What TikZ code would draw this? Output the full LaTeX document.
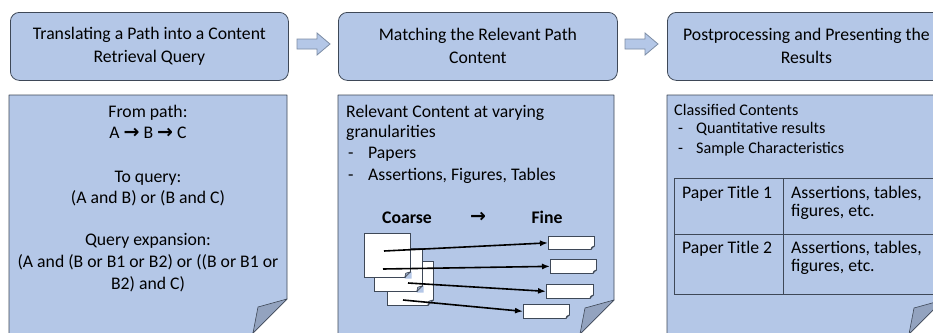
\documentclass[tikz,border=0pt]{standalone}
\usepackage{fontspec}
\setmainfont{Carlito}
\newfontfamily\symfont{DejaVu Sans}
\usetikzlibrary{arrows.meta}
\definecolor{boxfill}{HTML}{B4C7E7}
\definecolor{boxline}{HTML}{3E4857}
\definecolor{foldfill}{HTML}{93A3BF}
\definecolor{arrline}{HTML}{7D8DA5}
\newcommand\foldcorner[2]{%
  \fill[boxfill] ([xshift=0.8pt,yshift=-0.8pt]#1.south east) -- ++(-#2-0.8,0) -- ++(#2+0.8,-#2-0.8) -- cycle;
  \filldraw[fold] (#1.south east) ++(-#2,0) -- ++(#2,-#2) -- ++(-#2+1,1.5) -- cycle;
}
\newcommand\symarrow{{\fontsize{19}{21}\selectfont\symfont\bfseries →}}
\begin{document}
\begin{tikzpicture}[x=1pt,y=-1pt,
  topbox/.style={draw=boxline, fill=boxfill, line width=0.8pt, rounded corners=9pt,
    minimum width=278pt, minimum height=68pt, anchor=north west, align=center,
    inner sep=0pt, font=\fontsize{17.7}{23}\selectfont},
  page/.style={draw=boxline, fill=boxfill, line width=0.8pt, line join=round},
  fold/.style={draw=boxline, fill=foldfill, line width=0.6pt, line join=round},
  blockarrow/.style={draw=arrline, fill=boxfill, line width=0.8pt},
  txt/.style={anchor=base, inner sep=0pt, font=\fontsize{17.7}{21}\selectfont},
  ltxt/.style={txt, anchor=base west},
  stxt/.style={anchor=base west, inner sep=0pt, font=\fontsize{16.2}{19}\selectfont},
  sheet/.style={draw=boxline, fill=white, line width=0.7pt, inner sep=0pt, anchor=north west},
  conn/.style={line width=1.6pt, -{Latex[length=8pt,width=6pt]}},
  tbl/.style={draw=boxline, line width=0.8pt}]
\useasboundingbox (0,0) rectangle (933,332);
\clip (0,0) rectangle (933,332);
\fill[white] (0,0) rectangle (933,332);

% top boxes
\node[topbox] (h1) at (10,12) {Translating a Path into a Content\\Retrieval Query};
\node[topbox, minimum width=279pt] (h2) at (338,12) {Matching the Relevant Path\\Content};
\node[topbox] (h3) at (667,12) {Postprocessing and Presenting the\\Results};

% block arrows
\draw[blockarrow] (297,39) -- (317,39) -- (317,33) -- (330,44) -- (317,55) -- (317,49) -- (297,49) -- cycle;
\draw[blockarrow] (625,39) -- (645,39) -- (645,33) -- (658,44) -- (645,55) -- (645,49) -- (625,49) -- cycle;

% pages
\draw[page] (9,360) -- (9,95) -- (287,95) -- (287,299) -- (226,360) -- cycle;
\draw[fold] (287,299) -- (258,307) -- (253,333) -- cycle;
\draw[page] (338,360) -- (338,95) -- (614,95) -- (614,300) -- (554,360) -- cycle;
\draw[fold] (614,300) -- (585,308) -- (580,334) -- cycle;
\draw[page] (667,360) -- (667,95) -- (943,95) -- (943,300) -- (883,360) -- cycle;
\draw[fold] (943,300) -- (914,308) -- (909,334) -- cycle;

% page 1 text
\node[txt] (p1a) at (148,117) {From path:};
\node[txt] (p1b) at (148,138) {A \symarrow{} B \symarrow{} C};
\node[txt] (p1c) at (148,182) {To query:};
\node[txt] (p1d) at (148,203) {(A and B) or (B and C)};
\node[txt] (p1e) at (148,245) {Query expansion:};
\node[txt] (p1f) at (148,267) {(A and (B or B1 or B2) or ((B or B1 or};
\node[txt] (p1g) at (148,289) {B2) and C)};

% page 2 text
\node[ltxt] (p2a) at (346,117) {Relevant Content at varying};
\node[ltxt] (p2b) at (346,137) {granularities};
\node[ltxt] (p2c) at (348,158.5) {-};
\node[ltxt] (p2d) at (368,158.5) {Papers};
\node[ltxt] (p2e) at (348,180) {-};
\node[ltxt] (p2f) at (368,180) {Assertions, Figures, Tables};
\node[txt, font=\fontsize{17.7}{21}\selectfont\bfseries] (coarse) at (407,223) {Coarse};
\node[txt] (cf) at (478,222.5) {\symarrow};
\node[txt, font=\fontsize{17.7}{21}\selectfont\bfseries] (fine) at (547,223) {Fine};

% documents
\node[sheet, minimum width=46pt, minimum height=44pt] (d3) at (387,261) {};
\foldcorner{d3}{6}
\node[sheet, minimum width=48pt, minimum height=43pt] (d2) at (374,248) {};
\foldcorner{d2}{6}
\node[sheet, minimum width=46pt, minimum height=44pt] (d1) at (364,233) {};
\foldcorner{d1}{6}

% fine pieces
\node[sheet, minimum width=46pt, minimum height=13pt] (f1) at (548,236) {};
\foldcorner{f1}{4}
\node[sheet, minimum width=46pt, minimum height=14pt] (f2) at (550,259) {};
\foldcorner{f2}{4}
\node[sheet, minimum width=47pt, minimum height=14pt] (f3) at (546,284) {};
\foldcorner{f3}{4}
\node[sheet, minimum width=46pt, minimum height=14pt] (f4) at (523,304) {};
\foldcorner{f4}{4}

\coordinate (s1) at (384,251);
\coordinate (s2) at (383,269);
\coordinate (s3) at (408,283);
\coordinate (s4) at (403,300);
\draw[conn] (s1) -- (f1.west);
\draw[conn] (s2) -- (f2.west);
\draw[conn] (s3) -- (f3.west);
\draw[conn] (s4) -- (f4.west);

% page 3 text
\node[stxt] (p3a) at (674,115) {Classified Contents};
\node[stxt] (p3b) at (678,133) {-};
\node[stxt] (p3c) at (696,133) {Quantitative results};
\node[stxt] (p3d) at (678,153) {-};
\node[stxt] (p3e) at (696,153) {Sample Characteristics};

% table
\draw[tbl] (674,178) rectangle (940,294);
\draw[tbl] (674,234) -- (940,234);
\draw[tbl] (783,178) -- (783,294);
\node[ltxt] (r1a) at (682,198.5) {Paper Title 1};
\node[ltxt] (r1b) at (791,198.5) {Assertions, tables,};
\node[ltxt] (r1c) at (791,216) {figures, etc.};
\node[ltxt] (r2a) at (682,253.5) {Paper Title 2};
\node[ltxt] (r2b) at (791,253.5) {Assertions, tables,};
\node[ltxt] (r2c) at (791,271) {figures, etc.};
\end{tikzpicture}
\end{document}
